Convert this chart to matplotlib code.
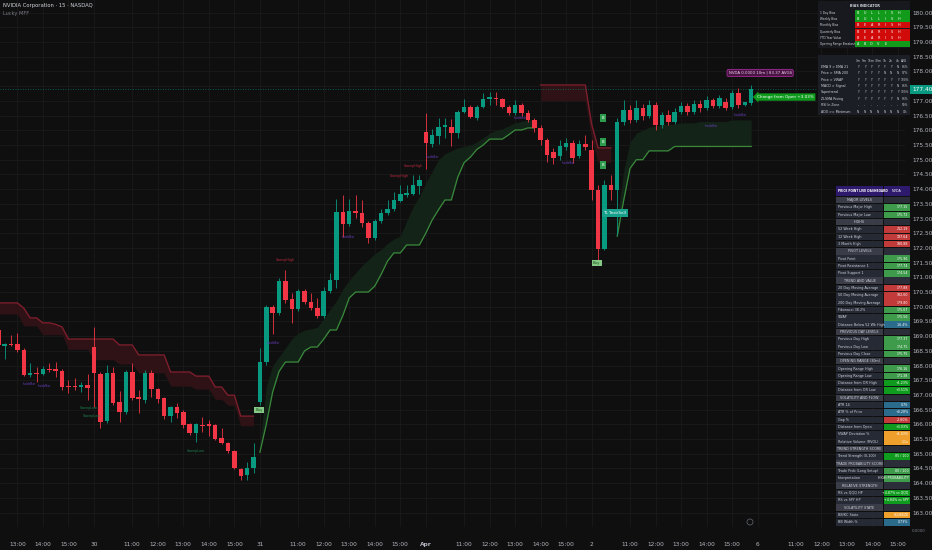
import matplotlib
matplotlib.use('Agg')
import matplotlib.pyplot as plt
from matplotlib.patches import Rectangle, Circle
from matplotlib.transforms import blended_transform_factory
import numpy as np

BG = '#0f0f0f'
GRID = '#1a1a1a'
TXT = '#b2b5be'
UP = '#089981'
DN = '#f23645'

# ---- NVDA 15m candles (open, high, low, close), one list per session ----
mar27 = [
    (169.21, 169.38, 168.62, 168.70), (168.66, 168.77, 168.22, 168.73), (168.73, 169.04, 168.66, 168.70),
    (168.73, 169.11, 168.46, 168.53), (168.53, 168.60, 167.64, 167.68), (167.68, 168.09, 167.61, 167.75),
    (167.75, 167.95, 167.44, 167.71), (167.71, 167.98, 167.68, 167.88), (167.88, 168.09, 167.78, 167.85),
    (167.88, 168.12, 167.61, 167.81), (167.81, 167.88, 167.17, 167.27), (167.30, 167.51, 167.07, 167.28),
    (167.30, 167.58, 167.17, 167.28), (167.27, 167.44, 167.10, 167.34), (167.34, 167.71, 166.83, 167.24),
]
mar30 = [
    (168.63, 169.31, 166.59, 167.75), (167.71, 167.78, 165.87, 166.08), (166.11, 168.02, 166.05, 167.75),
    (167.75, 167.95, 166.66, 166.73), (166.76, 167.13, 166.08, 166.42), (166.42, 167.85, 166.35, 167.78),
    (167.78, 168.09, 166.83, 166.90), (166.93, 167.17, 166.39, 166.86), (166.83, 167.85, 166.73, 167.75),
    (167.75, 167.85, 166.93, 167.20), (167.20, 167.24, 166.73, 166.86), (166.90, 166.93, 166.18, 166.28),
    (166.28, 166.62, 166.08, 166.59), (166.59, 166.73, 166.22, 166.39), (166.42, 166.49, 165.87, 165.98),
    (166.01, 166.05, 165.64, 165.71), (165.71, 166.05, 165.40, 166.01), (165.98, 166.25, 165.74, 165.96),
    (166.01, 166.15, 165.60, 165.94), (165.98, 166.01, 165.47, 165.50), (165.54, 165.87, 165.33, 165.37),
    (165.37, 165.40, 165.03, 165.09), (165.09, 165.13, 164.48, 164.52), (164.48, 164.52, 164.11, 164.24),
    (164.28, 164.72, 164.11, 164.52), (164.52, 165.37, 164.35, 164.89),
]
mar31 = [
    (166.76, 168.60, 166.66, 168.12), (168.12, 170.06, 168.02, 169.99), (169.99, 170.06, 169.07, 169.79),
    (169.79, 170.98, 169.72, 170.88), (170.88, 171.25, 170.13, 170.23), (170.26, 170.47, 169.45, 169.92),
    (169.92, 170.60, 169.85, 170.53), (170.53, 170.60, 170.09, 170.16), (170.16, 170.47, 169.89, 169.96),
    (169.96, 170.30, 169.62, 169.69), (169.69, 170.67, 169.62, 170.53), (170.53, 171.15, 170.47, 170.92),
    (170.92, 173.66, 170.64, 173.22), (173.22, 173.80, 172.37, 172.81), (172.81, 173.66, 172.75, 173.26),
    (173.26, 173.80, 173.02, 173.19), (173.19, 173.63, 172.71, 172.85), (172.85, 172.92, 172.17, 172.34),
    (172.34, 172.98, 172.27, 172.92), (172.92, 173.34, 172.85, 173.19), (173.19, 173.63, 173.12, 173.34),
    (173.34, 173.90, 173.26, 173.63), (173.60, 174.14, 173.56, 173.83), (173.80, 174.14, 173.73, 173.87),
    (173.83, 174.48, 173.80, 174.14), (174.11, 174.48, 173.83, 174.31),
]
apr1 = [
    (175.94, 176.59, 174.68, 175.57), (175.53, 176.04, 175.43, 175.84), (175.81, 176.42, 175.53, 176.11),
    (176.11, 176.42, 175.74, 176.18), (176.11, 176.38, 175.47, 175.91), (175.91, 176.69, 175.74, 176.62),
    (176.62, 177.06, 176.59, 176.79), (176.79, 176.86, 176.42, 176.45), (176.42, 176.86, 176.35, 176.79),
    (176.79, 177.27, 176.76, 177.06), (177.06, 177.30, 176.86, 177.13), (177.10, 177.30, 176.86, 177.06),
    (177.06, 177.10, 176.76, 176.79), (176.79, 176.86, 176.52, 176.59), (176.59, 177.03, 176.52, 176.86),
    (176.86, 176.93, 176.49, 176.59), (176.59, 176.69, 176.28, 176.35), (176.35, 176.42, 175.94, 176.08),
    (176.08, 176.18, 175.50, 175.67), (175.67, 175.74, 174.92, 175.16), (175.26, 175.40, 174.85, 175.06),
    (175.13, 175.67, 174.99, 175.47), (175.43, 175.74, 175.33, 175.57), (175.57, 175.67, 174.89, 175.06),
    (175.13, 175.67, 175.06, 175.53), (175.53, 175.84, 175.33, 175.43),
]
apr2 = [
    (175.33, 175.67, 173.63, 173.97), (173.97, 174.14, 171.52, 171.97), (171.97, 174.31, 171.93, 174.14),
    (174.14, 174.48, 173.63, 173.97), (173.97, 176.42, 172.44, 176.28), (176.28, 177.03, 176.18, 176.69),
    (176.69, 176.86, 176.25, 176.35), (176.35, 177.03, 176.28, 176.76), (176.76, 176.90, 176.35, 176.49),
    (176.49, 177.03, 176.42, 176.86), (176.86, 176.96, 176.01, 176.18), (176.18, 176.62, 176.08, 176.52),
    (176.52, 176.69, 176.18, 176.28), (176.28, 176.76, 176.21, 176.62), (176.62, 176.96, 176.56, 176.83),
    (176.83, 176.93, 176.52, 176.62), (176.62, 177.03, 176.56, 176.90), (176.90, 177.03, 176.62, 176.76),
    (176.76, 177.17, 176.69, 177.03), (177.03, 177.10, 176.76, 176.83), (176.83, 177.20, 176.76, 177.10),
    (176.96, 177.10, 176.69, 176.76), (176.79, 177.37, 176.72, 177.27), (177.27, 177.44, 176.76, 176.86),
    (176.86, 176.93, 176.83, 176.96), (176.93, 177.54, 176.86, 177.40),
]
last_price = 177.40

# ---- trend ribbon (bearish / bullish segments) ----
red1_start = 0
red1_line = [170.13, 170.13, 170.13, 170.13, 169.95, 169.62, 169.62, 169.45, 169.45, 169.40, 169.31,
             168.90, 168.90, 168.90, 168.90, 168.90, 168.90, 168.90, 168.90, 168.70, 168.70, 168.70,
             168.36, 168.36, 168.36, 168.36, 168.36, 167.78, 167.78, 167.78, 167.78, 167.64, 167.64,
             167.64, 167.27, 167.27, 166.99, 166.99, 166.28, 166.28, 166.28]
red1_low = [169.75] * 4 + [169.35] * 3 + [169.05] * 4 + [168.55] * 4 + [168.20] * 4 + [168.05] * 3 + \
           [167.75] * 5 + [167.30] * 4 + [167.20] * 3 + [166.85] * 2 + [166.65] * 2 + [165.95] * 3
green1_start = 41
green1_line = [165.05, 166.0, 167.1, 167.8, 168.12, 168.12, 168.12, 168.50, 168.63, 168.63, 168.90,
               169.21, 169.21, 169.70, 170.30, 170.50, 170.50, 170.50, 170.70, 171.10, 171.55, 171.83,
               171.83, 172.10, 172.10, 172.10, 172.50, 172.95, 173.30, 173.63, 173.63, 174.40, 174.90,
               175.09, 175.35, 175.50, 175.70, 175.70, 175.70, 175.85, 176.01, 176.01, 176.08, 176.08]
green1_up = [165.3, 167.3, 168.0, 168.3, 168.6, 168.9, 169.1, 169.2, 169.25, 169.3, 169.6, 169.9, 170.2,
             170.6, 170.9, 171.15, 171.4, 171.6, 171.8, 171.95, 172.15, 172.3, 172.4, 172.9, 173.4,
             173.75, 174.2, 174.6, 175.0, 175.2, 175.3, 175.4, 175.45, 175.5, 175.6, 175.75, 175.9,
             176.0, 176.05, 176.15, 176.25, 176.3, 176.35, 176.35]
red2_start = 85
red2_line = [177.54] * 8 + [176.20, 175.40, 175.40, 175.40]
red2_low = [177.00] * 8 + [175.70, 174.90, 174.90, 174.90]
green2_start = 97
green2_line = [172.40, 173.60, 174.70, 175.00, 175.00, 175.30, 175.30, 175.30, 175.30] + [175.45] * 13
green2_up = [173.0, 174.6, 175.6, 175.9, 176.0, 176.1, 176.15, 176.2, 176.2, 176.2, 176.25, 176.25,
             176.25, 176.3, 176.3, 176.3, 176.3, 176.3, 176.35, 176.35, 176.35, 176.35]

# ---- chart annotations: (text, bar, price) ----
sweep_high = [('SweepHigh', 44.9, 171.59), ('SweepHigh', 62.8, 174.45), ('SweepHigh', 65.0, 174.79)]
sweep_low = [('SweepLow', 14.1, 166.56), ('SweepLow', 14.7, 166.28), ('SweepLow', 31.0, 165.09)]
inside_bar = [('InsideBar', 4.8, 167.37), ('InsideBar', 7.2, 167.30), ('InsideBar', 43.1, 168.77),
              ('InsideBar', 54.8, 172.37), ('InsideBar', 68.0, 175.09), ('InsideBar', 81.8, 176.42),
              ('InsideBar', 89.3, 174.89), ('InsideBar', 111.7, 176.15), ('InsideBar', 116.3, 176.52)]
buy_tags = [('Buy', 40.9, 166.49), ('Buy', 93.8, 171.49)]
sig_tags = [('B', 94.8, 176.42), ('B', 94.8, 175.60), ('B', 94.8, 174.82)]
tl_tag = ('TL Test/Sell', 96.6, 173.19)
avg_tag = ('NVDA 0.0000 10m | 83.37 AVGS', 119.4, 177.95)
open_tag = ('Change from Open +3.03%', 118.9, 177.13)

# ---- time axis ----
BARS_PER_DAY = 26
FIRST_SLOT = 11            # first bar on screen is 12:15 of Mar 27
session_labels = ['27', '30', '31', 'Apr', '2', '6']
hour_labels = ['11:00', '12:00', '13:00', '14:00', '15:00']
hour_slots = [6, 10, 14, 18, 22]

# ---- tables ----
bias_title = 'BIAS INDICATOR'
bias_rows = ['1 Day Bias', 'Weekly Bias', 'Monthly Bias', 'Quarterly Bias', 'YTD Year Value',
             'Opening Range Breakout']
bias_words = ['BULLISH', 'BULLISH', 'BEARISH', 'BEARISH', 'BEARISH', 'ABOVE']

tf_cols = ['1m', '5m', '15m', '30m', '1h', '2h', '4h', 'AVG']
cond_rows = ['EMA 9 > EMA 21', 'Price > SMA 200', 'Price > VWAP', 'MACD > Signal', 'Supertrend',
             'ZLSMA Rising', 'RSI In Zone', 'ADX >= Minimum']
cond_vals = ['YYYYYYN', 'YYYYNNN', 'YYYYYYY', 'YYYYYYN', 'YYYYYYY', 'YYYYYYN', '-------', 'NNNNNNN']
cond_avg = ['86%', '57%', '100%', '86%', '100%', '86%', '50%', '0%']

dash_title = ('PRICE POINT LIVE DASHBOARD', 'NVDA')
dash_rows = [
    ('MAJOR LEVELS', None, 's'),
    ('Previous Major High', '177.15', 'g'), ('Previous Major Low', '175.72', 'g'),
    ('HIGHS', None, 's'),
    ('52 Week High', '212.19', 'r'), ('12 Week High', '197.64', 'r'), ('3 Month High', '180.88', 'r'),
    ('PIVOT LEVELS', None, 's'),
    ('Pivot Point', '175.96', 'g'), ('Pivot Resistance 1', '177.74', 'g'), ('Pivot Support 1', '174.54', 'g'),
    ('TREND AND VALUE', None, 's'),
    ('20 Day Moving Average', '177.88', 'r'), ('50 Day Moving Average', '182.60', 'r'),
    ('200 Day Moving Average', '179.80', 'r'), ('Fibonacci 38.2%', '175.67', 'g'), ('VWAP', '175.56', 'g'),
    ('Distance Below 52 Wk High', '-16.4%', 'b'),
    ('PREVIOUS DAY LEVELS', None, 's'),
    ('Previous Day High', '177.37', 'g'), ('Previous Day Low', '174.75', 'g'),
    ('Previous Day Close', '175.75', 'g'),
    ('OPENING RANGE (30m)', None, 's'),
    ('Opening Range High', '176.16', 'g'), ('Opening Range Low', '171.38', 'g'),
    ('Distance from OR High', '+1.23%', 'G'), ('Distance from OR Low', '+3.51%', 'G'),
    ('VOLATILITY AND FLOW', None, 's'),
    ('ATR 14', '0.76', 'b'), ('ATR % of Price', '+0.28%', 'b'), ('Gap %', '-2.60%', 'r'),
    ('Distance from Open', '+3.03%', 'G'), ('VWAP Deviation %', '+1.03%', 'o'),
    ('Relative Volume (RVOL)', '1.1x', 'o'),
    ('TREND STRENGTH SCORE', None, 's'),
    ('Trend Strength (0-100)', '85 / 100', 'G'),
    ('TRADE PROBABILITY SCORE', None, 's'),
    ('Trade Prob (Long Setup)', '80 / 100', 'g'), ('Interpretation', 'HIGH PROBABILITY', 'g'),
    ('RELATIVE STRENGTH', None, 's'),
    ('RS vs QQQ HP', '+4.87% vs QQQ', 'G'), ('RS vs SPY HP', '+4.84% vs SPY', 'G'),
    ('VOLATILITY STATE', None, 's'),
    ('BB/KC State', 'SQUEEZE', 'o'), ('BB Width %', '0.73%', 'b'),
]
cell_colors = {'g': '#3e9b4c', 'G': '#0f9b1d', 'r': '#c23b3b', 'b': '#2b6b8c', 'o': '#ee9f2c'}


def main() -> None:
    bars = mar27 + mar30 + mar31 + apr1 + apr2
    o = np.array([b[0] for b in bars])
    h = np.array([b[1] for b in bars])
    l = np.array([b[2] for b in bars])
    c = np.array([b[3] for b in bars])
    x = np.arange(len(bars))
    col = np.where(c >= o, UP, DN)

    fig = plt.figure(figsize=(9.32, 5.5), dpi=100, facecolor=BG)
    ax = fig.add_axes([0, 23 / 550, 905 / 932, 527 / 550], facecolor=BG)
    x_lo, x_hi = 0.27, 142.1
    ax.set_xlim(x_lo, x_hi)
    ax.set_ylim(162.51, 180.43)
    for s in ax.spines.values():
        s.set_visible(False)

    # ticks / grid
    tick_pos, tick_lab = [], []
    for s, day in enumerate(session_labels):
        for lab, slot in zip([day] + hour_labels, [0] + hour_slots):
            pos = s * BARS_PER_DAY + slot - FIRST_SLOT
            if x_lo <= pos <= x_hi:
                tick_pos.append(pos)
                tick_lab.append(lab)
    ax.set_xticks(tick_pos)
    ax.set_xticklabels(tick_lab)
    for t in ax.get_xticklabels():
        if t.get_text() == 'Apr':
            t.set_fontweight('bold')
            t.set_color('#d1d4dc')
    yt = np.arange(163.0, 180.01, 0.5)
    ax.set_yticks(yt)
    # the last-price tag covers the nearest scale label
    ax.set_yticklabels(['' if abs(v - last_price) < 0.2 else '%.2f' % v for v in yt])
    ax.yaxis.tick_right()
    ax.tick_params(axis='x', length=0, pad=10.5, labelsize=4.2, labelcolor=TXT)
    ax.tick_params(axis='y', length=0, pad=5, labelsize=4.2, labelcolor=TXT)
    for p in tick_pos:
        ax.axvline(p, color=GRID, lw=0.6, zorder=0)
    for v in yt:
        ax.axhline(v, color=GRID, lw=0.6, zorder=0)

    # ribbon
    def seg(start, vals):
        return np.arange(start, start + len(vals))
    red_fill, red_line = '#2e1216', '#7d1e2c'
    green_fill, green_line = '#132317', '#3a8a3c'
    xr1 = seg(red1_start, red1_line)
    ax.fill_between(xr1, red1_low, red1_line, color=red_fill, lw=0, zorder=1)
    ax.plot(xr1, red1_line, color=red_line, lw=1.0, zorder=2)
    xg1 = seg(green1_start, green1_line)
    ax.fill_between(xg1, green1_line, green1_up, color=green_fill, lw=0, zorder=1)
    ax.plot(xg1, green1_line, color=green_line, lw=0.9, zorder=2)
    xr2 = seg(red2_start, red2_line)
    ax.fill_between(xr2, red2_low, red2_line, color=red_fill, lw=0, zorder=1)
    ax.plot(xr2, red2_line, color=red_line, lw=1.0, zorder=2)
    xg2 = seg(green2_start, green2_line)
    ax.fill_between(xg2, green2_line, green2_up, color=green_fill, lw=0, zorder=1)
    ax.plot(xg2, green2_line, color=green_line, lw=0.9, zorder=2)

    # candles
    ax.vlines(x, l, h, colors=col, lw=0.6, zorder=3)
    body_lo = np.minimum(o, c)
    body_h = np.maximum(np.abs(c - o), 0.025)
    ax.bar(x, body_h, bottom=body_lo, width=0.7, color=col, linewidth=0, zorder=4)

    # last price line and tag
    ax.axhline(last_price, color=UP, lw=0.6, ls=(0, (1, 2)), alpha=0.7, zorder=2)
    tr = blended_transform_factory(ax.transAxes, ax.transData)
    ax.text(1.008, last_price, '%.2f' % last_price, transform=tr, fontsize=4.2, color='white',
            va='center', ha='left', clip_on=False,
            bbox=dict(boxstyle='square,pad=0.35', fc=UP, ec='none'))

    # small text labels
    for txt, bx, py in sweep_high:
        ax.text(bx, py, txt, fontsize=2.4, color='#b8283c', ha='center', va='center', zorder=5)
    for txt, bx, py in sweep_low:
        ax.text(bx, py, txt, fontsize=2.4, color='#1f8050', ha='center', va='center', zorder=5)
    for txt, bx, py in inside_bar:
        ax.text(bx, py, txt, fontsize=2.1, color='#6a3fc0', ha='center', va='center', zorder=5)
    for txt, bx, py in buy_tags:
        ax.text(bx, py, txt, fontsize=2.8, color='#1b4d1b', ha='center', va='center', zorder=6,
                bbox=dict(boxstyle='square,pad=0.35', fc='#86c986', ec='none'))
    for txt, bx, py in sig_tags:
        ax.text(bx, py, txt, fontsize=2.8, color='white', ha='center', va='center', zorder=6,
                bbox=dict(boxstyle='square,pad=0.45', fc='#2e9e4e', ec='none'))
    ax.text(tl_tag[1], tl_tag[2], tl_tag[0], fontsize=3.0, color='white', ha='center', va='center',
            zorder=6, bbox=dict(boxstyle='square,pad=0.4', fc='#17a08c', ec='none'))
    ax.text(avg_tag[1], avg_tag[2], avg_tag[0], fontsize=2.8, color='#f0d0ea', ha='center',
            va='center', zorder=6, bbox=dict(boxstyle='round,pad=0.4', fc='#4a1445', ec='#a02a96', lw=0.6))
    ax.text(open_tag[1], open_tag[2], open_tag[0], fontsize=3.0, color='white', ha='left',
            va='center', zorder=6, bbox=dict(boxstyle='larrow,pad=0.4', fc='#0f9b1d', ec='none'))

    # ---- overlay in pixel space for the tables ----
    ov = fig.add_axes([0, 0, 1, 1])
    ov.set_xlim(0, 932)
    ov.set_ylim(550, 0)
    ov.axis('off')
    ov.patch.set_alpha(0)

    def box(x0, y0, w, hh, fc):
        ov.add_patch(Rectangle((x0, y0), w, hh, fc=fc, ec='none'))

    def text(xx, yy, s, size=2.7, color='#d1d4dc', ha='left', weight='normal'):
        ov.text(xx, yy, s, fontsize=size, color=color, ha=ha, va='center', fontweight=weight)

    text(3, 5.5, 'NVIDIA Corporation \u00b7 15 \u00b7 NASDAQ', size=3.8, color='#d1d4dc')
    text(3, 13, 'Lucky MFF', size=3.6, color='#787b86')

    # bias table
    box(818, 1, 92, 47, '#17191f')
    text(865, 6, bias_title, size=2.4, ha='center', weight='bold')
    rh = 6.2
    for k, (lab, word) in enumerate(zip(bias_rows, bias_words)):
        yc = 13 + k * rh
        fc = '#d10a0a' if word == 'BEARISH' else '#129a1a'
        box(855, yc - rh / 2, 55, rh, fc)
        text(820, yc, lab, size=2.1)
        for j, ch in enumerate(word):
            text(858 + j * 6.8, yc, ch, size=2.4, color='white', ha='center')

    # multi-timeframe table
    box(818, 55, 92, 60, '#1c1e25')
    for j, cname in enumerate(tf_cols):
        text(858 + j * 6.6, 60.5, cname, size=2.2, ha='center')
    for k, (lab, vals, avg) in enumerate(zip(cond_rows, cond_vals, cond_avg)):
        yc = 66.8 + k * 6.4
        text(821, yc, lab, size=2.3)
        for j, ch in enumerate(vals):
            text(858 + j * 6.6, yc, ch, size=2.2, color='#c8c8c8', ha='center')
        text(904.6, yc, avg, size=2.1, color='#c8c8c8', ha='center')

    # dashboard
    box(836, 186, 47, 10, '#2e1a6c')
    box(883.5, 186, 26.5, 10, '#2e1a6c')
    text(837.5, 191, dash_title[0], size=2.1, color='white', weight='bold')
    text(896.5, 191, dash_title[1], size=2.4, color='white', ha='center')
    drh = 7.32
    for k, (lab, val, kind) in enumerate(dash_rows):
        y0 = 196.5 + k * drh
        yc = y0 + drh / 2
        if kind == 's':
            box(836, y0 + 0.4, 47, drh - 0.8, '#3a3d47')
            box(883.5, y0 + 0.4, 26.5, drh - 0.8, '#2b2e38')
            text(859.5, yc, lab, size=2.4, ha='center')
        else:
            box(836, y0 + 0.4, 47, drh - 0.8, '#262a34')
            box(883.5, y0 + 0.4, 26.5, drh - 0.8, cell_colors[kind])
            text(838, yc, lab, size=2.4)
            text(908.5, yc, val, size=2.3, color='white', ha='right')

    text(919, 531.5, '0.0000', size=2.8, color='#787b86', ha='center')
    ov.add_patch(Circle((750, 522), 3, fill=False, ec='#5a5d66', lw=0.6))

    fig.savefig('out.png', dpi=100, facecolor=BG)
    plt.close(fig)


if __name__ == '__main__':
    main()
